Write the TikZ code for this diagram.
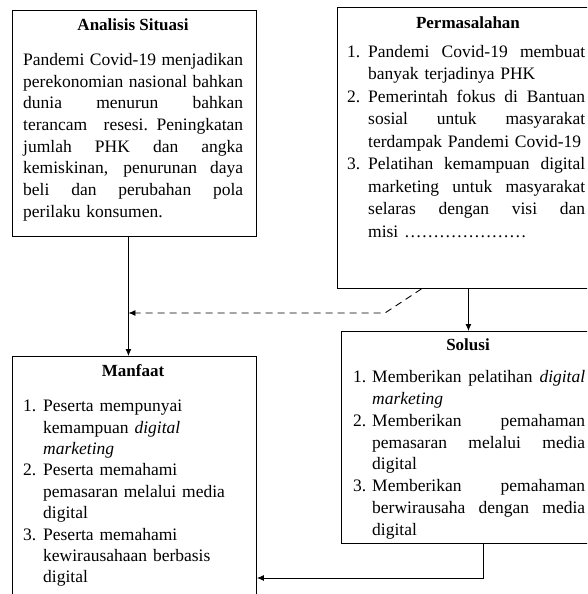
\documentclass[tikz,border=0pt]{standalone}
\usepackage{fontspec}
\setmainfont{Liberation Serif}
\usetikzlibrary{arrows.meta}
\tikzset{
  kotak/.style={draw, line width=0.9pt, anchor=north west, inner sep=0pt},
  judul/.style={font=\fontsize{17}{21.7}\selectfont\bfseries, inner sep=0pt},
  isi/.style={font=\fontsize{17.5}{21.7}\selectfont, anchor=north west, inner sep=0pt},
  panah/.style={line width=0.9pt, -{Latex[length=7pt,width=6pt]}},
  putus/.style={panah, dash pattern=on 7pt off 5pt}
}
\newlength\jarak
\newlength\lebar
\newcommand{\baris}[1]{\hbox to \lebar{\spaceskip=0.25em plus 1fil\relax #1}}
\newcommand{\butir}[2]{\hangindent=\jarak\hangafter=1\noindent\makebox[\jarak][l]{#1}#2\par}
\begin{document}
\begin{tikzpicture}[x=1pt,y=-1pt]
\useasboundingbox (0,0) rectangle (587,594);
\fill[white] (0,0) rectangle (587,594);
\clip (0,0) rectangle (587,594);

\node[kotak, minimum width=244pt, minimum height=226pt] (analisis) at (12,10) {};
\node[judul] (analisisJudul) at (133,25) {Analisis Situasi};
\node[isi, text width=220pt] (analisisIsi) at (23,53) {\setlength\lebar{220pt}\noindent
\baris{Pandemi Covid-19 menjadikan}\newline
\baris{perekonomian nasional bahkan}\newline
\baris{dunia menurun bahkan}\newline
\baris{terancam resesi. Peningkatan}\newline
\baris{jumlah PHK dan angka}\newline
\baris{kemiskinan, penurunan daya}\newline
\baris{beli dan perubahan pola}\newline
perilaku konsumen.};

\node[kotak, minimum width=262pt, minimum height=281pt] (permasalahan) at (337,7) {};
\node[judul] (permasalahanJudul) at (468,23) {Permasalahan};
\node[isi, text width=240pt, font=\fontsize{17.5}{22.5}\selectfont] (permasalahanIsi) at (347,45) {%
\setlength\jarak{21pt}\setlength\lebar{217pt}%
\butir{1.}{\baris{Pandemi Covid-19 membuat}\newline banyak terjadinya PHK}
\butir{2.}{\baris{Pemerintah fokus di Bantuan}\newline \baris{sosial untuk masyarakat}\newline terdampak Pandemi Covid-19}
\butir{3.}{\baris{Pelatihan kemampuan digital}\newline \baris{marketing untuk masyarakat}\newline \baris{selaras dengan visi dan}\newline misi …………………}};

\node[kotak, minimum width=254pt, minimum height=212pt] (solusi) at (341,331) {};
\node[judul] (solusiJudul) at (468,345) {Solusi};
\node[isi, text width=234pt, font=\fontsize{17.5}{21.9}\selectfont] (solusiIsi) at (353,370) {%
\setlength\jarak{19pt}\setlength\lebar{213pt}%
\butir{1.}{\baris{Memberikan pelatihan \emph{digital}}\newline \emph{marketing}}
\butir{2.}{\baris{Memberikan pemahaman}\newline \baris{pemasaran melalui media}\newline digital}
\butir{3.}{\baris{Memberikan pemahaman}\newline \baris{berwirausaha dengan media}\newline digital}};

\node[kotak, minimum width=244pt, minimum height=270pt] (manfaat) at (12,356) {};
\node[judul] (manfaatJudul) at (133,371) {Manfaat};
\node[isi, text width=215pt, font=\fontsize{17.5}{21.4}\selectfont] (manfaatIsi) at (23,400) {%
\setlength\jarak{20pt}%
\butir{1.}{Peserta mempunyai\newline kemampuan \emph{digital}\newline \emph{marketing}}
\butir{2.}{Peserta memahami\newline pemasaran melalui media\newline digital}
\butir{3.}{Peserta memahami\newline kewirausahaan berbasis\newline digital}};

\coordinate (garis) at ([xshift=-6pt]analisis.south);
\coordinate (tekuk) at (385,313);
\coordinate (bawah) at (0,578);
\draw[panah] (garis) -- ([xshift=-6pt]manfaat.north);
\draw[putus] ([xshift=-47pt]permasalahan.south) -- (tekuk) -- (garis |- tekuk);
\draw[panah] (permasalahan.south) -- (solusi.north);
\draw[panah] ([xshift=15pt]solusi.south) |- (manfaat.east |- bawah);
\end{tikzpicture}
\end{document}
